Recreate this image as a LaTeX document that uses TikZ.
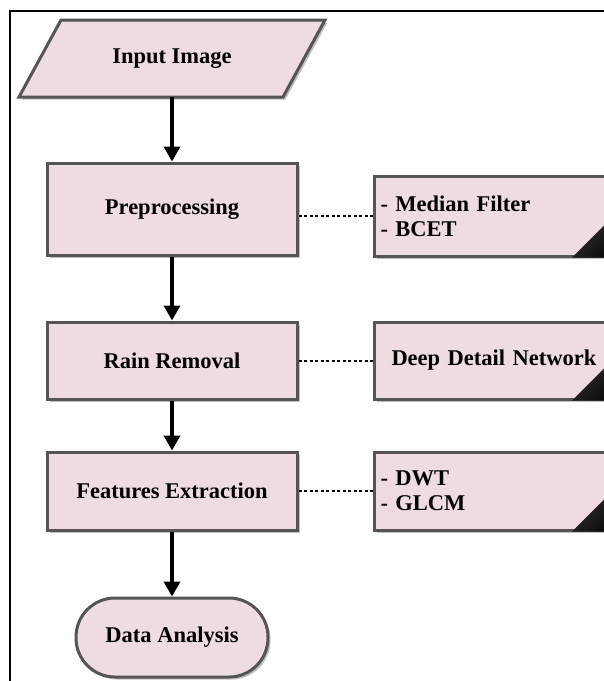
\documentclass[tikz,border=0pt]{standalone}
\usepackage{fontspec}
\setmainfont{Liberation Serif}
\usetikzlibrary{arrows.meta,shadows,calc}
\definecolor{boxfill}{HTML}{EFDCE0}
\definecolor{boxline}{HTML}{555555}
\tikzset{
  lbl/.style={font=\fontsize{22.5}{25}\selectfont\bfseries, text=black},
  shad/.style={drop shadow={shadow xshift=2.5pt, shadow yshift=-2.5pt, opacity=0.25, fill=black}},
  mainbox/.style={lbl, draw=boxline, fill=boxfill, line width=3pt, minimum width=250pt, shad, inner sep=0pt},
  sidebox/.style={lbl, draw=boxline, fill=boxfill, line width=3pt, minimum width=267pt, anchor=west, text width=255pt, inner xsep=5pt, align=left, shad},
  flow/.style={line width=3.4pt, -{Triangle[length=15pt,width=16pt]}},
  link/.style={line width=2pt, dash pattern=on 3pt off 2.5pt},
  fold/.style={left color=black!75, right color=black, shading angle=45}
}
\begin{document}
\begin{tikzpicture}[x=1pt,y=-1pt]
\useasboundingbox (0,0) rectangle (604,681);
\clip (0,0) rectangle (604,681);
% frame
\draw[line width=1.6pt] (10,690) -- (10,11) -- (620,11);
% input parallelogram
\fill[black, opacity=0.25] (63.5,22.5) -- (327.5,22.5) -- (285.5,99.5) -- (21.5,99.5) -- cycle;
\draw[draw=boxline, fill=boxfill, line width=3pt, line join=miter] (61,20) -- (325,20) -- (283,97) -- (19,97) -- cycle;
\node[lbl, minimum height=77pt, minimum width=200pt, inner sep=0pt] (in) at (172,58.5) {Input Image};
% main boxes
\node[mainbox, minimum height=92pt] (pre) at (172,209) {Preprocessing};
\node[mainbox, minimum height=77pt] (rain) at (172,360.5) {Rain Removal};
\node[mainbox, minimum height=78pt] (feat) at (172,491) {Features Extraction};
\node[lbl, draw=boxline, fill=boxfill, line width=3pt, minimum width=192pt, minimum height=79pt, rounded corners=39pt, shad] (data) at (172,637.5) {Data Analysis};
% side boxes
\node[sidebox, minimum height=80pt] (s1) at (373,216) {- Median Filter\\- BCET};
\node[sidebox, minimum height=77pt] (s2) at (373,360.5) {\hspace*{11pt}Deep Detail Network};
\node[sidebox, minimum height=78pt] (s3) at (373,491) {- DWT\\- GLCM};
% folded corners
\shade[fold] (572,257.5) -- (640,189.5) -- (640,257.5) -- cycle;
\shade[fold] (572,400.5) -- (640,332.5) -- (640,400.5) -- cycle;
\shade[fold] (572,531.5) -- (640,463.5) -- (640,531.5) -- cycle;
% flow arrows
\draw[flow] (in.south) -- (pre.north);
\draw[flow] (pre.south) -- (rain.north);
\draw[flow] (rain.south) -- (feat.north);
\draw[flow] (feat.south) -- (data.north);
% dashed links
\draw[link] (s1.west -| pre.east) -- (s1.west);
\draw[link] (rain.east) -- (s2.west);
\draw[link] (feat.east) -- (s3.west);
\end{tikzpicture}
\end{document}
